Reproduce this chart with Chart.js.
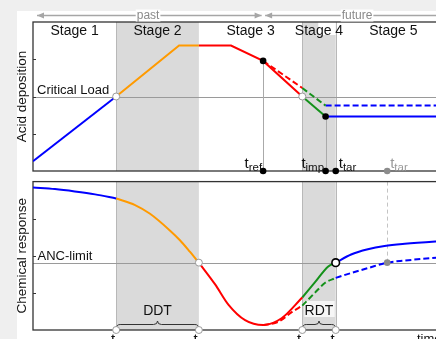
<!DOCTYPE html>
<html>
<head>
<meta charset="utf-8">
<script src="https://cdn.jsdelivr.net/npm/chart.js@4.4.0/dist/chart.umd.min.js"></script>
<style>
  html, body { margin: 0; padding: 0; width: 436px; height: 339px; overflow: hidden; background: #efefef; }
  #paper { position: absolute; left: 17px; top: 11px; right: 0; bottom: 0; background: #fff; }
  canvas { position: absolute; left: 0; }
  #depChart { top: 0; }
  #respChart { top: 176px; }
</style>
</head>
<body>
<div id="paper"></div>
<canvas id="depChart" width="480" height="176"></canvas>
<canvas id="respChart" width="480" height="163"></canvas>
<script>
// time axis in arbitrary units
const T1 = 18.9;        // deposition passes the critical load
const T2 = 37.7;        // chemistry passes the ANC-limit
const T_REF = 52.3;     // reference year (present)
const T3 = 61.2;
const T_IMP = 66.5;
const T4 = 68.8;
const T_TAR_LATE = 80.5;
const T_END = 95;

const stageNames = ['Stage 1', 'Stage 2', 'Stage 3', 'Stage 4', 'Stage 5'];
const stageEdges = [0, T1, T2, T3, T4, T_END];

const criticalLoad = 5.0;
const ancLimit = 4.54;
const yTicks = [2.5, 5, 7.5];

// acid deposition (top panel)
const depHistT = [0, T1];
const depHistV = [0.65, 5.0];
const depRiseT = [T1, 33.2, T2];
const depRiseV = [5.0, 8.42, 8.42];
const depFallT = [T2, 45, T_REF, T3];
const depFallV = [8.42, 8.42, 7.39, 5.0];
const depCutT = [T3, T_IMP];
const depCutV = [5.0, 3.66];
const depAfterT = [T_IMP, T_END];
const depAfterV = [3.66, 3.66];
const depSlowFallT = [T_REF, T3];
const depSlowFallV = [7.39, 5.57];
const depSlowCutT = [T3, T_IMP];
const depSlowCutV = [5.57, 4.39];
const depSlowAfterT = [T_IMP, T_END];
const depSlowAfterV = [4.39, 4.39];

// chemical response (bottom panel)
const respPreT = [0, 5, 9.5, 14.1, T1];
const respPreV = [9.61, 9.5, 9.34, 9.14, 8.86];
const respDeclT = [T1, 23.2, 26.6, 31.1, 33.4, 35.7, T2];
const respDeclV = [8.86, 8.42, 7.83, 6.71, 6.05, 5.26, 4.54];
const respDipT = [T2, 41.4, 44.4, 48.2, T_REF, 56.5, T3];
const respDipV = [4.54, 3.07, 1.71, 0.66, 0.33, 0.79, 2.19];
const respRecT = [T3, 64.1, 67.1, T4];
const respRecV = [2.19, 3.22, 4.28, 4.54];
const respPostT = [T4, 72.3, 76.1, 79.9, 84.5, 91.6, T_END];
const respPostV = [4.54, 5.09, 5.44, 5.66, 5.81, 5.97, 6.03];
const respSlowDipT = [T_REF, 55.75, 58.8, T3];
const respSlowDipV = [0.33, 0.55, 1.2, 1.64];
const respSlowRecT = [T3, 64.1, 66.4, T4];
const respSlowRecV = [1.64, 2.52, 3.18, 3.51];
const respSlowPostT = [T4, 72.3, 76.1, T_TAR_LATE, 84.5, 91.6, T_END];
const respSlowPostV = [3.51, 3.84, 4.17, 4.54, 4.68, 4.87, 4.95];

const BLUE = '#0000ff', ORANGE = '#ff9a00', RED = '#ff0000', GREEN = '#14911a';
const BAND = '#dadada', FRAME = '#333', GUIDE = '#9a9a9a';
const FONT = '"Liberation Sans", Arial, sans-serif';

const pts = (ts, vs) => ts.map((t, i) => ({ x: t, y: vs[i] }));

function line(ts, vs, color, dashed, smooth) {
    return {
        data: pts(ts, vs),
        borderColor: color,
        borderWidth: 2,
        borderDash: dashed ? [6, 3] : [],
        pointRadius: 0,
        tension: 0,
        cubicInterpolationMode: smooth ? 'monotone' : 'default',
        order: dashed ? 2 : 1
    };
}

function dots(ts, vs, fill, stroke, r, bw) {
    return {
        data: pts(ts, vs),
        showLine: false,
        pointRadius: r,
        pointBackgroundColor: fill,
        pointBorderColor: stroke,
        pointBorderWidth: bw,
        clip: false,
        order: 0
    };
}

function baseOptions(padTop, padBottom) {
    return {
        responsive: false,
        animation: false,
        events: [],
        layout: { padding: { left: 33, right: 29, top: padTop, bottom: padBottom } },
        plugins: { legend: { display: false }, tooltip: { enabled: false } },
        scales: {
            x: { type: 'linear', display: false, min: 0, max: T_END },
            y: { display: false, min: 0, max: 10 }
        }
    };
}

function vline(ctx, x, y1, y2, color, dash) {
    ctx.save();
    ctx.strokeStyle = color;
    ctx.lineWidth = 1;
    ctx.setLineDash(dash || []);
    ctx.beginPath();
    ctx.moveTo(Math.round(x) + 0.5, y1);
    ctx.lineTo(Math.round(x) + 0.5, y2);
    ctx.stroke();
    ctx.restore();
}

function hline(ctx, y, x1, x2, color) {
    ctx.save();
    ctx.strokeStyle = color;
    ctx.lineWidth = 1;
    ctx.beginPath();
    ctx.moveTo(x1, Math.round(y) + 0.5);
    ctx.lineTo(x2, Math.round(y) + 0.5);
    ctx.stroke();
    ctx.restore();
}

function frame(chart) {
    const { ctx, chartArea: a } = chart;
    ctx.save();
    ctx.strokeStyle = FRAME;
    ctx.lineWidth = 1.3;
    ctx.strokeRect(a.left, a.top, a.right - a.left, a.bottom - a.top);
    ctx.lineWidth = 1;
    yTicks.forEach(v => {
        const y = Math.round(chart.scales.y.getPixelForValue(v)) + 0.5;
        ctx.beginPath();
        ctx.moveTo(a.left, y);
        ctx.lineTo(a.left + 3, y);
        ctx.stroke();
    });
    ctx.restore();
}

function yTitle(ctx, text, x, cy) {
    ctx.save();
    ctx.translate(x, cy);
    ctx.rotate(-Math.PI / 2);
    ctx.font = `13.5px ${FONT}`;
    ctx.fillStyle = '#111';
    ctx.textAlign = 'center';
    ctx.textBaseline = 'alphabetic';
    ctx.fillText(text, 0, 0);
    ctx.restore();
}

function subLabel(ctx, x, y, sub, align, color) {
    ctx.save();
    ctx.font = `15px ${FONT}`;
    const w1 = ctx.measureText('t').width;
    ctx.font = `11.5px ${FONT}`;
    const w2 = ctx.measureText(sub).width;
    let x0 = x;
    if (align === 'right') x0 = x - w1 - w2;
    if (align === 'center') x0 = x - (w1 + w2) / 2;
    ctx.fillStyle = color;
    ctx.textAlign = 'left';
    ctx.textBaseline = 'alphabetic';
    ctx.font = `15px ${FONT}`;
    ctx.fillText('t', x0, y);
    ctx.font = `11.5px ${FONT}`;
    ctx.fillText(sub, x0 + w1, y + 3);
    ctx.restore();
}

function brace(ctx, x1, x2, y) {
    const m = (x1 + x2) / 2, r = 4;
    ctx.save();
    ctx.strokeStyle = FRAME;
    ctx.lineWidth = 1;
    ctx.beginPath();
    ctx.moveTo(x1, y + 4.5);
    ctx.quadraticCurveTo(x1, y, x1 + r, y);
    ctx.lineTo(m - r, y);
    ctx.quadraticCurveTo(m, y, m, y - 3.5);
    ctx.quadraticCurveTo(m, y, m + r, y);
    ctx.lineTo(x2 - r, y);
    ctx.quadraticCurveTo(x2, y, x2, y + 4.5);
    ctx.stroke();
    ctx.restore();
}

function arrowHead(ctx, x, y, dir) {
    ctx.beginPath();
    ctx.moveTo(x, y);
    ctx.lineTo(x - dir * 7, y - 3);
    ctx.lineTo(x - dir * 7, y + 3);
    ctx.closePath();
    ctx.fill();
}

function timeArrow(ctx, x1, x2, y, label, cx, headLeft, headRight) {
    ctx.save();
    ctx.strokeStyle = '#a6a6a6';
    ctx.fillStyle = '#a6a6a6';
    ctx.lineWidth = 1.4;
    ctx.beginPath();
    ctx.moveTo(x1, y);
    ctx.lineTo(x2, y);
    ctx.stroke();
    if (headLeft) arrowHead(ctx, x1, y, -1);
    if (headRight) arrowHead(ctx, x2, y, 1);
    ctx.font = `12px ${FONT}`;
    const w = ctx.measureText(label).width;
    ctx.fillStyle = '#fff';
    ctx.fillRect(cx - w / 2 - 1, y - 6, w + 2, 12);
    ctx.fillStyle = '#8a8a8a';
    ctx.textAlign = 'center';
    ctx.textBaseline = 'middle';
    ctx.fillText(label, cx, y + 0.5);
    ctx.restore();
}

const depDecor = {
    id: 'depDecor',
    beforeDatasetsDraw(chart) {
        const { ctx, chartArea: a } = chart;
        const X = v => chart.scales.x.getPixelForValue(v);
        const Y = v => chart.scales.y.getPixelForValue(v);
        ctx.save();
        ctx.fillStyle = BAND;
        ctx.fillRect(X(T1), a.top, X(T2) - X(T1), a.bottom - a.top);
        ctx.fillRect(X(T3), a.top, X(T4) - X(T3), a.bottom - a.top);
        ctx.fillStyle = '#fff';
        ctx.fillRect(X(T3) + 16, a.top, X(T4) - X(T3) - 16, 13);
        ctx.restore();
        [T1, T3, T4].forEach(t => vline(ctx, X(t), a.top, a.bottom, '#b8b8b8'));
        hline(ctx, Y(criticalLoad), a.left, a.right, GUIDE);
        vline(ctx, X(T_REF), Y(depFallV[2]), a.bottom, '#aaa');
        vline(ctx, X(T_IMP), Y(depCutV[1]), a.bottom, '#aaa');
        frame(chart);
    },
    afterDraw(chart) {
        const { ctx, chartArea: a } = chart;
        const X = v => chart.scales.x.getPixelForValue(v);
        const Y = v => chart.scales.y.getPixelForValue(v);

        timeArrow(ctx, a.left + 4, X(T_REF) - 1.5, 15.5, 'past', X(T_REF / 2), true, true);
        timeArrow(ctx, X(T_REF) + 2, X(T_END) + 20, 15.5, 'future', X((T_REF + T_END) / 2), true, false);

        ctx.save();
        ctx.fillStyle = '#111';
        ctx.font = `14px ${FONT}`;
        ctx.textAlign = 'center';
        ctx.textBaseline = 'alphabetic';
        stageNames.forEach((name, i) => {
            ctx.fillText(name, X((stageEdges[i] + stageEdges[i + 1]) / 2), a.top + 13);
        });
        ctx.font = `13px ${FONT}`;
        ctx.textAlign = 'left';
        ctx.fillText('Critical Load', a.left + 4, Y(criticalLoad) - 3);
        ctx.restore();

        yTitle(ctx, 'Acid deposition', 25.5, (a.top + a.bottom) / 2);

        subLabel(ctx, X(T_REF) - 1, a.bottom - 3, 'ref', 'right', '#111');
        subLabel(ctx, X(T_IMP) - 1.5, a.bottom - 3, 'imp', 'right', '#111');
        subLabel(ctx, X(T4) + 3, a.bottom - 3, 'tar', 'left', '#111');
        subLabel(ctx, X(T_TAR_LATE) + 3, a.bottom - 3, 'tar', 'left', '#9a9a9a');
    }
};

const respDecor = {
    id: 'respDecor',
    beforeDatasetsDraw(chart) {
        const { ctx, chartArea: a } = chart;
        const X = v => chart.scales.x.getPixelForValue(v);
        const Y = v => chart.scales.y.getPixelForValue(v);
        ctx.save();
        ctx.fillStyle = BAND;
        ctx.fillRect(X(T1), a.top, X(T2) - X(T1), a.bottom - a.top);
        ctx.fillRect(X(T3), a.top, X(T4) - X(T3), a.bottom - a.top);
        ctx.fillStyle = '#f6f6f6';
        ctx.fillRect(X(T3) + 2, a.bottom - 29, X(T4) - X(T3) - 3, 16);
        ctx.restore();
        [T1, T3, T4].forEach(t => vline(ctx, X(t), a.top, a.bottom, '#b8b8b8'));
        hline(ctx, Y(ancLimit), a.left, a.right, GUIDE);
        vline(ctx, X(T_TAR_LATE), a.top, Y(ancLimit), '#c4c4c4', [4, 3]);
        frame(chart);
        brace(ctx, X(T1), X(T2), a.bottom - 5.5);
        brace(ctx, X(T3), X(T4), a.bottom - 5.5);
    },
    afterDraw(chart) {
        const { ctx, chartArea: a } = chart;
        const X = v => chart.scales.x.getPixelForValue(v);
        const Y = v => chart.scales.y.getPixelForValue(v);
        ctx.save();
        ctx.fillStyle = '#111';
        ctx.font = `13px ${FONT}`;
        ctx.textAlign = 'left';
        ctx.textBaseline = 'alphabetic';
        ctx.fillText('ANC-limit', a.left + 4.5, Y(ancLimit) - 3);
        ctx.font = `14px ${FONT}`;
        ctx.textAlign = 'center';
        ctx.fillText('DDT', X((T1 + T2) / 2), a.bottom - 15);
        ctx.fillText('RDT', X((T3 + T4) / 2), a.bottom - 15);
        ctx.font = `13px ${FONT}`;
        ctx.textAlign = 'left';
        ctx.fillText('time', a.right - 34, a.bottom + 13);
        ctx.restore();

        yTitle(ctx, 'Chemical response', 25.5, (a.top + a.bottom) / 2);

        subLabel(ctx, X(T1), a.bottom + 14, '1', 'center', '#111');
        subLabel(ctx, X(T2), a.bottom + 14, '2', 'center', '#111');
        subLabel(ctx, X(T3), a.bottom + 14, '3', 'center', '#111');
        subLabel(ctx, X(T4), a.bottom + 14, '4', 'center', '#111');
    }
};

new Chart(document.getElementById('depChart'), {
    type: 'line',
    data: {
        datasets: [
            dots([T1, T3], [criticalLoad, criticalLoad], '#fff', '#999', 3.5, 1),
            dots([T_REF, T_IMP], [depFallV[2], depCutV[1]], '#000', '#000', 3.3, 0),
            dots([T_REF, T_IMP, T4], [0, 0, 0], '#000', '#000', 3.3, 0),
            dots([T_TAR_LATE], [0], '#8c8c8c', '#8c8c8c', 3.3, 0),
            line(depHistT, depHistV, BLUE, false, false),
            line(depRiseT, depRiseV, ORANGE, false, false),
            line(depFallT, depFallV, RED, false, false),
            line(depCutT, depCutV, GREEN, false, false),
            line(depAfterT, depAfterV, BLUE, false, false),
            line(depSlowFallT, depSlowFallV, RED, true, false),
            line(depSlowCutT, depSlowCutV, GREEN, true, false),
            line(depSlowAfterT, depSlowAfterV, BLUE, true, false)
        ]
    },
    options: baseOptions(22, 2),
    plugins: [depDecor]
});

new Chart(document.getElementById('respChart'), {
    type: 'line',
    data: {
        datasets: [
            dots([T1, T2, T3, T4], [0, 0, 0, 0], '#fff', '#999', 3.5, 1),
            dots([T2], [ancLimit], '#fff', '#999', 3.5, 1),
            dots([T4], [ancLimit], '#fff', '#000', 3.8, 1.6),
            dots([T_TAR_LATE], [ancLimit], '#8c8c8c', '#8c8c8c', 3.3, 0),
            line(respPreT, respPreV, BLUE, false, true),
            line(respDeclT, respDeclV, ORANGE, false, true),
            line(respDipT, respDipV, RED, false, true),
            line(respRecT, respRecV, GREEN, false, true),
            line(respPostT, respPostV, BLUE, false, true),
            line(respSlowDipT, respSlowDipV, RED, true, true),
            line(respSlowRecT, respSlowRecV, GREEN, true, true),
            line(respSlowPostT, respSlowPostV, BLUE, true, true)
        ]
    },
    options: baseOptions(2, 9),
    plugins: [respDecor]
});
</script>
</body>
</html>
